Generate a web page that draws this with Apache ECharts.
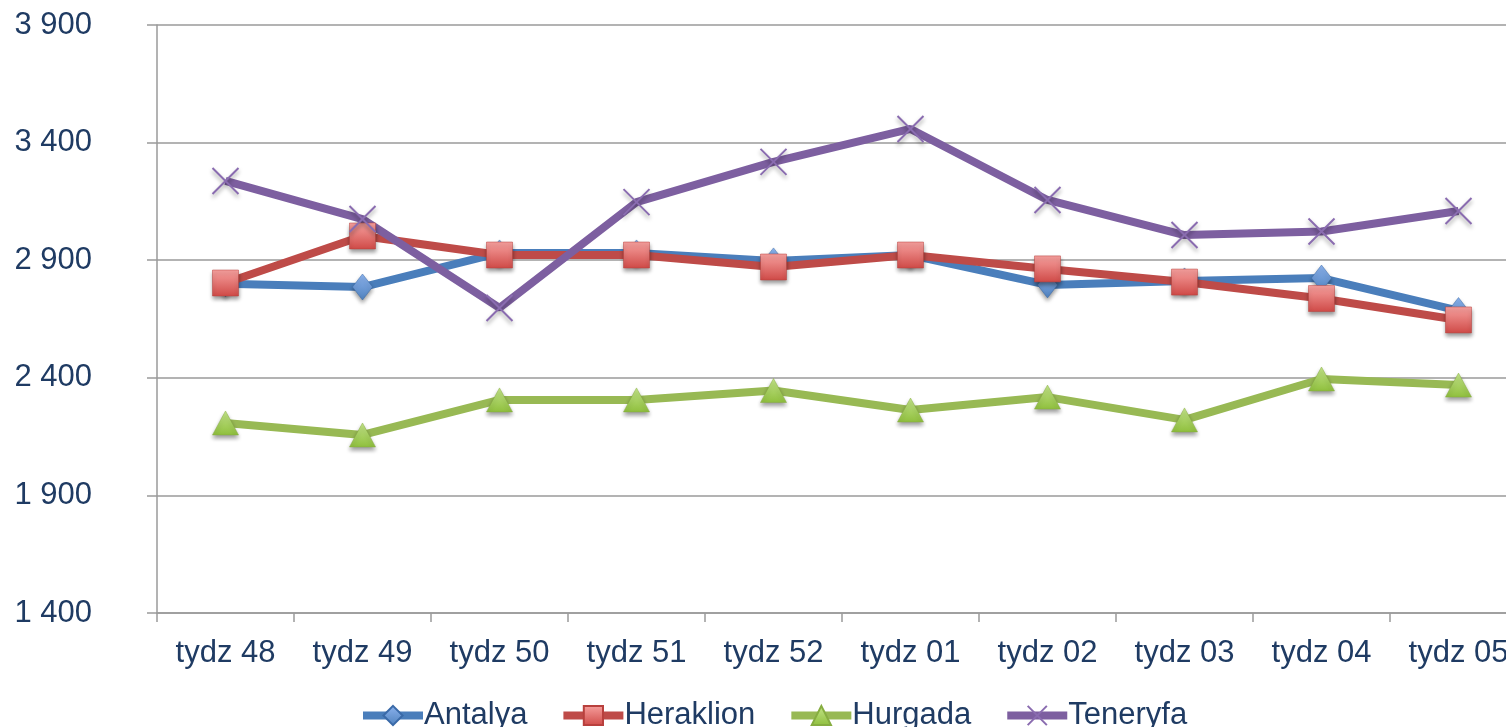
<!DOCTYPE html>
<html>
	<head>
		<meta charset="utf-8" />
		<title></title>
		<script src="https://cdn.jsdelivr.net/npm/echarts@6/dist/echarts.min.js" type="text/javascript" charset="utf-8"></script>
		<style type="text/css">
			html, body { margin: 0; padding: 0; background: #fff; overflow: hidden; }
			/* 图表比窗口略宽，右侧被裁掉 */
			#main { width: 1527px; height: 727px; }
		</style>
	</head>
	<body>
		<div id="main"></div>
		<script type="text/javascript">
			var categories = ['tydz 48', 'tydz 49', 'tydz 50', 'tydz 51', 'tydz 52', 'tydz 01', 'tydz 02', 'tydz 03', 'tydz 04', 'tydz 05'];
			var antalya = [2800, 2786, 2931, 2931, 2897, 2922, 2795, 2812, 2824, 2686];
			var heraklion = [2803, 3003, 2922, 2922, 2871, 2922, 2863, 2807, 2737, 2646];
			var hurgada = [2208, 2157, 2306, 2306, 2346, 2263, 2318, 2221, 2395, 2369];
			var teneryfa = [3237, 3075, 2697, 3147, 3318, 3458, 3156, 3007, 3022, 3109];

			var textColor = '#1f3b63';
			var gridColor = '#9a9a9a';
			var fontFam = 'Liberation Sans, Arial, sans-serif';

			function grad(top, bottom) {
				return new echarts.graphic.LinearGradient(0, 0, 0, 1, [
					{ offset: 0, color: top },
					{ offset: 1, color: bottom }
				]);
			}
			// 标记阴影
			var shadow = { shadowBlur: 4, shadowColor: 'rgba(0,0,0,0.4)', shadowOffsetY: 3 };

			function makeSeries(name, data, lineColor, symbol, size, itemStyle) {
				return {
					name: name,
					type: 'line',
					data: data,
					symbol: symbol,
					symbolSize: size,
					showAllSymbol: true,
					lineStyle: { color: lineColor, width: 8 },
					itemStyle: Object.assign({}, shadow, itemStyle),
					emphasis: { disabled: true }
				};
			}

			var myChart = echarts.init(document.getElementById('main'));
			var option = {
				animation: false,
				grid: { left: 157, top: 25, bottom: 114, right: 0 },
				legend: {
					top: 695,
					left: 354,
					itemWidth: 60,
					itemHeight: 24,
					itemGap: 32,
					lineStyle: { width: 8 },
					textStyle: { color: textColor, fontSize: 31, fontFamily: fontFam, padding: [0, 0, 0, -4] },
					data: ['Antalya', 'Heraklion', 'Hurgada', 'Teneryfa']
				},
				xAxis: {
					type: 'category',
					data: categories,
					boundaryGap: true,
					axisLine: { lineStyle: { color: gridColor, width: 1.5 } },
					axisTick: { show: true, length: 9, lineStyle: { color: gridColor, width: 1.5 } },
					axisLabel: { color: textColor, fontSize: 31, fontFamily: fontFam, margin: 25, interval: 0 }
				},
				yAxis: {
					type: 'value',
					min: 1400,
					max: 3900,
					interval: 500,
					axisLine: { show: true, lineStyle: { color: gridColor, width: 1.5 } },
					axisTick: { show: true, length: 10, lineStyle: { color: gridColor, width: 1.5 } },
					splitLine: { lineStyle: { color: gridColor, width: 1.5 } },
					axisLabel: {
						color: textColor, fontSize: 31, fontFamily: fontFam, margin: 65, padding: [6, 0, 0, 0],
						formatter: function (v) { return String(v).replace(/\B(?=(\d{3})+(?!\d))/g, ' '); }
					}
				},
				series: [
					makeSeries('Antalya', antalya, '#4a7ebb', 'diamond', [20, 26],
						{ color: grad('#8db4ef', '#4f81bd'), borderColor: '#3a6aa8', borderWidth: 0.5 }),
					makeSeries('Heraklion', heraklion, '#be4b48', 'rect', [26, 26],
						{ color: grad('#f7a19f', '#cf4a47'), borderColor: '#b8403d', borderWidth: 0.5 }),
					makeSeries('Hurgada', hurgada, '#98b954', 'triangle', [26, 24],
						{ color: grad('#c4e58a', '#8fbf3d'), borderColor: '#86ad40', borderWidth: 0.5 }),
					makeSeries('Teneryfa', teneryfa, '#7d5fa0', 'path://M0,0L10,10M10,0L0,10', [26, 26],
						{ color: 'rgba(0,0,0,0)', borderColor: '#8a6cb0', borderWidth: 2 })
				]
			};
			myChart.setOption(option);
		</script>
	</body>
</html>
